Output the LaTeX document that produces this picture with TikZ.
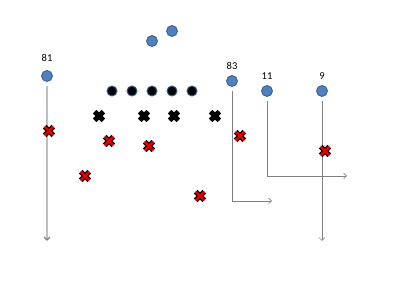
\documentclass[tikz,border=0pt]{standalone}
\usepackage{fontspec}
\setsansfont{Carlito}
\usetikzlibrary{arrows.meta, positioning}
\definecolor{cblue}{HTML}{4F81BD}
\definecolor{cedge}{HTML}{385D8A}
\definecolor{cred}{HTML}{E00000}
\definecolor{croute}{HTML}{808080}
\tikzset{
  every picture/.style={font=\sffamily, x=1pt, y=-1pt},
  rcv/.style={circle, draw=cedge, fill=cblue, line width=0.8pt, minimum size=11pt, inner sep=0pt},
  oline/.style={circle, draw=cedge, fill=black, line width=1pt, minimum size=10pt, inner sep=0pt},
  num/.style={font=\sffamily\fontsize{10.5}{11}\selectfont, inner sep=0pt},
  route/.style={draw=croute, line width=0.7pt, -{Straight Barb[length=3pt, width=6pt]}, shorten <=4pt},
  longroute/.style={route, draw=black!25, line width=1.3pt, -{Straight Barb[length=3pt, width=6pt, color=croute]}},
  defx/.pic={
    \draw[line width=5pt, black] (-4.3,-4.3) -- (4.3,4.3) (-4.3,4.3) -- (4.3,-4.3);
    \draw[line width=2.6pt, #1] (-4.3,-4.3) -- (4.3,4.3) (-4.3,4.3) -- (4.3,-4.3);
  },
}
\begin{document}
\begin{tikzpicture}
  \useasboundingbox (0,0) rectangle (400,296);
  % offensive line
  \foreach \i/\x in {1/112, 2/132, 3/152, 4/172, 5/192}
    \node[oline] (ol\i) at (\x,91) {};
  % backs
  \node[rcv] (qb) at (152,41) {};
  \node[rcv] (rb) at (172,31) {};
  % receivers
  \node[rcv] (r81) at (47,76) {};
  \node[rcv] (r83) at (232,81) {};
  \node[rcv] (r11) at (267,91) {};
  \node[rcv] (r9) at (322,91) {};
  \node[num, above=8pt of r81] (n81) {81};
  \node[num, above=5pt of r83] (n83) {83};
  \node[num, above=5pt of r11] (n11) {11};
  \node[num, above=5pt of r9] (n9) {9};
  % routes
  \coordinate (e81) at (47,241);
  \coordinate (c83) at (232,201);
  \coordinate (e83) at (272,201);
  \coordinate (c11) at (267,176);
  \coordinate (e11) at (347,176);
  \coordinate (e9) at (322,241);
  \draw[longroute] (r81) -- (e81);
  \draw[route] (r83) -- (c83) -- (e83);
  \draw[route] (r11) -- (c11) -- (e11);
  \draw[route] (r9) -- (e9);
  % defense
  \foreach \x/\y in {99/116, 144/116, 174/116, 215/116}
    \pic at (\x,\y) {defx=black};
  \foreach \x/\y in {49/131, 109/141, 149/146, 85/176, 200/196, 240/136, 325/151}
    \pic at (\x,\y) {defx=cred};
\end{tikzpicture}
\end{document}
